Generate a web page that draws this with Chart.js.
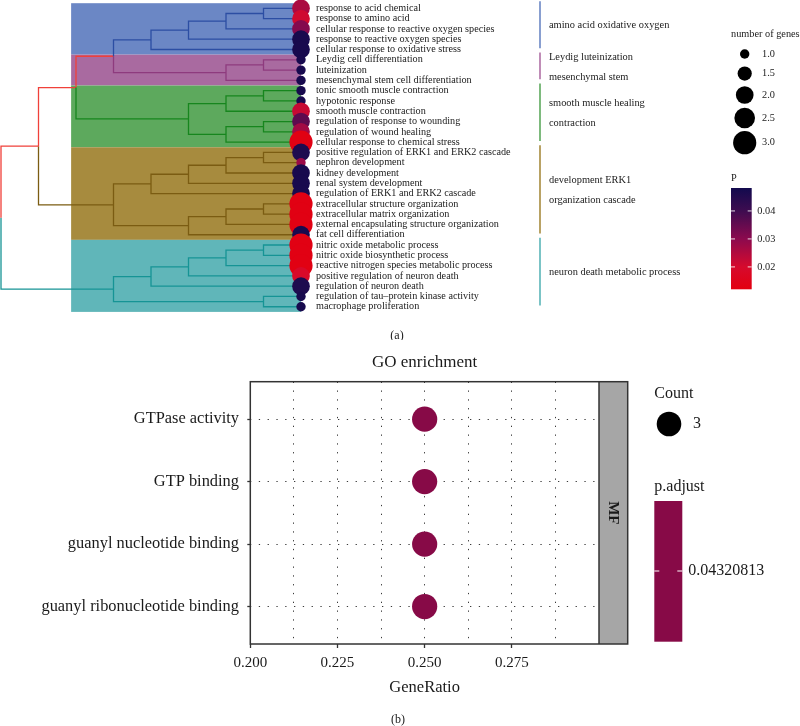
<!DOCTYPE html>
<html><head><meta charset="utf-8">
<script src="https://cdn.jsdelivr.net/npm/chart.js@4.4.1/dist/chart.umd.min.js"></script>
<style>
html,body{margin:0;padding:0;background:#fff;}
#wrap{position:relative;width:800px;height:726px;overflow:hidden;}
.box{position:absolute;left:0;width:800px;}
</style></head><body>
<div id="wrap">
<div class="box" style="top:0;height:340px"><canvas id="c1"></canvas></div>
<div class="box" style="top:340px;height:386px"><canvas id="c2"></canvas></div>
</div>
<script>
// ---------------- Panel (a) data ----------------
const terms = [
 "response to acid chemical","response to amino acid","cellular response to reactive oxygen species",
 "response to reactive oxygen species","cellular response to oxidative stress",
 "Leydig cell differentiation","luteinization","mesenchymal stem cell differentiation",
 "tonic smooth muscle contraction","hypotonic response","smooth muscle contraction",
 "regulation of response to wounding","regulation of wound healing","cellular response to chemical stress",
 "positive regulation of ERK1 and ERK2 cascade","nephron development","kidney development",
 "renal system development","regulation of ERK1 and ERK2 cascade","extracellular structure organization",
 "extracellular matrix organization","external encapsulating structure organization","fat cell differentiation",
 "nitric oxide metabolic process","nitric oxide biosynthetic process","reactive nitrogen species metabolic process",
 "positive regulation of neuron death","regulation of neuron death","regulation of tau\u2013protein kinase activity",
 "macrophage proliferation"];
const geneCounts = [2,2,2,2,2, 1,1,1, 1,1,2,2,2,3, 2,1,2,2,2,3,3,3,2, 3,3,3,2,2,1,1];
const pValues = [0.026,0.021,0.031,0.047,0.047, 0.047,0.047,0.047, 0.047,0.047,0.022,0.036,0.027,0.013,
                 0.046,0.028,0.047,0.047,0.047,0.013,0.013,0.013,0.047, 0.013,0.013,0.013,0.019,0.046,0.047,0.047];
const clusterOfTerm = [0,0,0,0,0, 1,1,1, 2,2,2,2,2,2, 3,3,3,3,3,3,3,3,3, 4,4,4,4,4,4,4];
const clusterLabels = [["amino acid oxidative oxygen"],["Leydig luteinization","mesenchymal stem"],
  ["smooth muscle healing","contraction"],["development ERK1","organization cascade"],["neuron death metabolic process"]];
// tree merges: [childA, childB, depth]; leaves are 0..29, internal nodes numbered from 30
const treeMerges = [
 [0,1,7],[30,2,6],[31,3,5],[32,4,4],          // 30-33
 [5,6,7],[34,7,6],[33,35,3],                  // 34-36
 [8,9,7],[37,10,6],[11,12,7],[39,13,6],[38,40,5],[36,41,2], // 37-42
 [14,15,7],[43,16,6],[44,17,5],[45,18,4],[19,20,7],[47,21,6],[48,22,5],[46,49,3],[42,50,1], // 43-51
 [23,24,7],[52,25,6],[53,26,5],[54,27,4],[28,29,7],[55,56,3],[51,57,0]  // 52-58
];
const leafDepth = 8;
const highlightStart = 1.87;
const sizeBreaks = [1.0,1.5,2.0,2.5,3.0];
const pTicks = [0.02,0.03,0.04];
const pRange = [0.012,0.0482];

// ---------------- Panel (b) data ----------------
const goTerms = ["GTPase activity","GTP binding","guanyl nucleotide binding","guanyl ribonucleotide binding"];
const goGeneRatio = [0.25,0.25,0.25,0.25];
const goCount = [3,3,3,3];
const goPadjust = [0.04320813,0.04320813,0.04320813,0.04320813];
const goFacet = "MF";
const ratioTicks = [0.2,0.2125,0.225,0.2375,0.25,0.2625,0.275,0.2875];
const ratioLabelled = [0.2,0.225,0.25,0.275];

// ---------------- styles ----------------
const SERIF = "'Liberation Serif', 'DejaVu Serif', serif";
const clusterFill = ['#6B87C5','#A96AA0','#5DA95D','#A78B3E','#60B6B9'];
const clusterLine = ['#2C4EA3','#8E3B7E','#17861E','#7B5C12','#169495'];
const clusterBar  = ['#6B87C5','#B070A5','#5DA95D','#A78B3E','#5AB5B8'];
const redLine = '#F0403A';
const cStops = [[0.012,[227,0,15]],[0.02,[214,10,45]],[0.03,[140,10,78]],[0.04,[62,12,80]],[0.0482,[18,10,78]]];
function pColor(p){
  if(p<=cStops[0][0]) return `rgb(${cStops[0][1].join(',')})`;
  for(let i=1;i<cStops.length;i++){
    if(p<=cStops[i][0]){
      const [p0,c0]=cStops[i-1],[p1,c1]=cStops[i];const t=(p-p0)/(p1-p0);
      return `rgb(${c0.map((v,k)=>Math.round(v+(c1[k]-v)*t)).join(',')})`;
    }
  }
  return `rgb(${cStops[cStops.length-1][1].join(',')})`;
}
const rMin=4.7,rMax=11.6;
function sizeR(v){return Math.sqrt(rMin*rMin+(v-1)/2*(rMax*rMax-rMin*rMin));}

// ---------------- build tree geometry ----------------
const nLeaf = terms.length;
const nodes = [];
for(let i=0;i<nLeaf;i++) nodes.push({x:leafDepth,y:i,leaves:[i]});
treeMerges.forEach(([a,b,d])=>{
  nodes.push({x:d,y:(nodes[a].y+nodes[b].y)/2,leaves:nodes[a].leaves.concat(nodes[b].leaves),kids:[a,b]});
});
function nodeColor(n){
  const cs=new Set(n.leaves.map(l=>clusterOfTerm[l]));
  return cs.size===1?clusterLine[[...cs][0]]:redLine;
}
const segByColor = {};
nodes.forEach(n=>{
  if(!n.kids) return;
  n.kids.forEach(k=>{
    const c=nodes[k];const col=nodeColor(c);
    (segByColor[col]=segByColor[col]||[]).push({x:n.x,y:n.y},{x:n.x,y:c.y},{x:c.x,y:c.y},{x:c.x,y:null});
  });
});
const lineSets = Object.keys(segByColor).map(col=>({
  data:segByColor[col],showLine:true,borderColor:col,borderWidth:1.3,pointRadius:0,pointHitRadius:0,
  spanGaps:false,fill:false,order:1,clip:false
}));
const clusterRanges = clusterLabels.map((_,k)=>{
  const idx=clusterOfTerm.map((c,i)=>c===k?i:-1).filter(i=>i>=0);
  return [idx[0],idx[idx.length-1]];
});

const treeDecor = {
  id:'treeDecor',
  beforeDatasetsDraw(chart){
    const {ctx,scales:{x,y}}=chart;
    ctx.save();
    clusterRanges.forEach((r,k)=>{
      const x0=x.getPixelForValue(highlightStart),x1=x.getPixelForValue(leafDepth);
      const y0=y.getPixelForValue(r[0]-0.5),y1=y.getPixelForValue(r[1]+0.5);
      ctx.fillStyle=clusterFill[k];ctx.fillRect(x0,y0,x1-x0,y1-y0);
    });
    ctx.restore();
  },
  afterDraw(chart){
    const {ctx,scales:{y}}=chart;
    ctx.save();
    // clade labels
    ctx.font=`10.4px ${SERIF}`;ctx.fillStyle='#1a1a1a';ctx.textBaseline='middle';ctx.textAlign='left';
    clusterRanges.forEach((r,k)=>{
      const y0=y.getPixelForValue(r[0]-0.7),y1=y.getPixelForValue(r[1]-0.12);
      ctx.strokeStyle=clusterBar[k];ctx.lineWidth=1.6;
      ctx.beginPath();ctx.moveTo(540,y0);ctx.lineTo(540,y1);ctx.stroke();
      const lines=clusterLabels[k];const mid=(y0+y1)/2+1;
      lines.forEach((t,j)=>ctx.fillText(t,549,mid+(j-(lines.length-1)/2)*20));
    });
    // size legend
    ctx.font=`10.3px ${SERIF}`;
    ctx.fillText('number of genes',731,34);
    const ly=[54,73.6,95,118,142.7];
    sizeBreaks.forEach((v,i)=>{
      ctx.fillStyle='#000';ctx.beginPath();ctx.arc(744.7,ly[i],sizeR(v),0,Math.PI*2);ctx.fill();
      ctx.fillStyle='#1a1a1a';ctx.fillText(v.toFixed(1),762,ly[i]);
    });
    // colour bar
    ctx.fillText('P',731,178);
    const bx=731,bw=20.7,bTop=188,bBot=289.3;
    const g=ctx.createLinearGradient(0,bBot,0,bTop);
    cStops.forEach(([p,c])=>g.addColorStop((p-pRange[0])/(pRange[1]-pRange[0]),`rgb(${c.join(',')})`));
    ctx.fillStyle=g;ctx.fillRect(bx,bTop,bw,bBot-bTop);
    pTicks.forEach(p=>{
      const yy=bBot-(p-pRange[0])/(pRange[1]-pRange[0])*(bBot-bTop);
      ctx.strokeStyle='rgba(255,255,255,0.85)';ctx.lineWidth=1;
      ctx.beginPath();ctx.moveTo(bx,yy);ctx.lineTo(bx+4,yy);ctx.moveTo(bx+bw-4,yy);ctx.lineTo(bx+bw,yy);ctx.stroke();
      ctx.fillStyle='#1a1a1a';ctx.fillText(p.toFixed(2),757.3,yy);
    });
    ctx.font=`12px ${SERIF}`;ctx.textAlign='center';
    ctx.fillText('(a)',397,336);
    ctx.restore();
  }
};

new Chart(document.getElementById('c1'),{
  type:'scatter',
  data:{datasets:[{
      data:terms.map((t,i)=>({x:leafDepth,y:i})),
      pointRadius:geneCounts.map(sizeR),pointHoverRadius:geneCounts.map(sizeR),
      pointBackgroundColor:pValues.map(pColor),pointBorderWidth:0,order:0,clip:false
    },...lineSets]},
  options:{
    responsive:true,maintainAspectRatio:false,animation:false,
    layout:{autoPadding:false,padding:{left:1,top:3.2,bottom:28.1,right:0}},
    plugins:{legend:{display:false},tooltip:{enabled:false}},
    scales:{
      x:{type:'linear',min:0,max:leafDepth,display:false},
      y:{type:'linear',position:'right',min:-0.5,max:terms.length-0.5,reverse:true,
        afterBuildTicks:s=>{s.ticks=terms.map((t,i)=>({value:i}));},
        afterFit:s=>{s.width=499;s.paddingTop=0;s.paddingBottom=0;},
        grid:{display:false,drawTicks:false},border:{display:false},
        ticks:{padding:15,autoSkip:false,color:'#1a1a1a',font:{family:SERIF,size:10.2},
          callback:v=>terms[v]}}
    }
  },
  plugins:[treeDecor]
});

// ---------------- Panel (b) ----------------
const dotColor = '#870A47';
const goDecor = {
  id:'goDecor',
  afterDraw(chart){
    const {ctx,chartArea:a}=chart;
    ctx.save();
    const stripR=627.7;
    ctx.fillStyle='#A6A6A6';ctx.fillRect(a.right,a.top,stripR-a.right,a.bottom-a.top);
    ctx.strokeStyle='#333';ctx.lineWidth=1.5;
    ctx.strokeRect(a.left,a.top,stripR-a.left,a.bottom-a.top);
    ctx.beginPath();ctx.moveTo(a.right,a.top);ctx.lineTo(a.right,a.bottom);ctx.stroke();
    ctx.fillStyle='#1a1a1a';
    ctx.save();ctx.translate((a.right+stripR)/2,(a.top+a.bottom)/2);ctx.rotate(Math.PI/2);
    ctx.font=`bold 15px ${SERIF}`;ctx.textAlign='center';ctx.textBaseline='middle';ctx.fillText(goFacet,0,0);ctx.restore();
    ctx.font=`17px ${SERIF}`;ctx.textAlign='center';ctx.textBaseline='middle';
    ctx.fillText('GO enrichment',(a.left+a.right)/2,23);
    ctx.font=`16px ${SERIF}`;ctx.textAlign='left';
    ctx.fillText('Count',654.3,53.3);
    ctx.fillStyle='#000';ctx.beginPath();ctx.arc(669,84,12.3,0,Math.PI*2);ctx.fill();
    ctx.fillStyle='#1a1a1a';ctx.fillText(String(goCount[0]),693,84);
    ctx.fillText('p.adjust',654.3,146.7);
    ctx.fillStyle=dotColor;ctx.fillRect(654.3,161,28,140.7);
    ctx.strokeStyle='#fff';ctx.lineWidth=1;
    ctx.beginPath();ctx.moveTo(654.3,231);ctx.lineTo(659.3,231);ctx.moveTo(677.3,231);ctx.lineTo(682.3,231);ctx.stroke();
    ctx.fillStyle='#1a1a1a';ctx.fillText(String(goPadjust[0]),688.3,231);
    ctx.font=`12px ${SERIF}`;ctx.textAlign='center';
    ctx.fillText('(b)',398,380);
    ctx.restore();
  }
};
const near=(a,b)=>Math.abs(a-b)<1e-9;
new Chart(document.getElementById('c2'),{
  type:'scatter',
  data:{datasets:[{
    data:goTerms.map((t,i)=>({x:goGeneRatio[i],y:i+1})),
    pointRadius:12.6,pointHoverRadius:12.6,pointBackgroundColor:dotColor,pointBorderWidth:0,clip:false
  }]},
  options:{
    responsive:true,maintainAspectRatio:false,animation:false,
    layout:{autoPadding:false,padding:{left:0,top:41.7,right:201,bottom:0}},
    plugins:{legend:{display:false},tooltip:{enabled:false}},
    scales:{
      x:{type:'linear',min:0.2,max:0.3,
        afterBuildTicks:s=>{s.ticks=ratioTicks.map(v=>({value:v}));},
        afterFit:s=>{s.height=82;},
        grid:{color:c=>(c.tick&&near(c.tick.value,0.2))?'rgba(0,0,0,0)':'#3a3a3a',lineWidth:1,
              tickColor:c=>(c.tick&&ratioLabelled.some(v=>near(v,c.tick.value)))?'#333':'rgba(0,0,0,0)',
              tickLength:4,tickWidth:1.3},
        border:{display:false,dash:[1.3,7.5]},
        ticks:{padding:5.7,autoSkip:false,maxRotation:0,color:'#1a1a1a',font:{family:SERIF,size:15},
          callback:v=>ratioLabelled.some(u=>near(u,v))?v.toFixed(3):''},
        title:{display:true,text:'GeneRatio',color:'#1a1a1a',font:{family:SERIF,size:16.5},padding:{top:0,bottom:28.7}}
      },
      y:{type:'linear',min:0.4,max:goTerms.length+0.6,reverse:true,
        afterBuildTicks:s=>{s.ticks=goTerms.map((t,i)=>({value:i+1}));},
        afterFit:s=>{s.width=250.3;},
        grid:{color:'#3a3a3a',lineWidth:1,tickColor:'#333',tickLength:3,tickWidth:1.3},
        border:{display:false,dash:[1.3,7.5]},
        ticks:{padding:8.3,autoSkip:false,color:'#1a1a1a',font:{family:SERIF,size:16.4},
          callback:v=>goTerms[v-1]}
      }
    }
  },
  plugins:[goDecor]
});
</script>
</body></html>
